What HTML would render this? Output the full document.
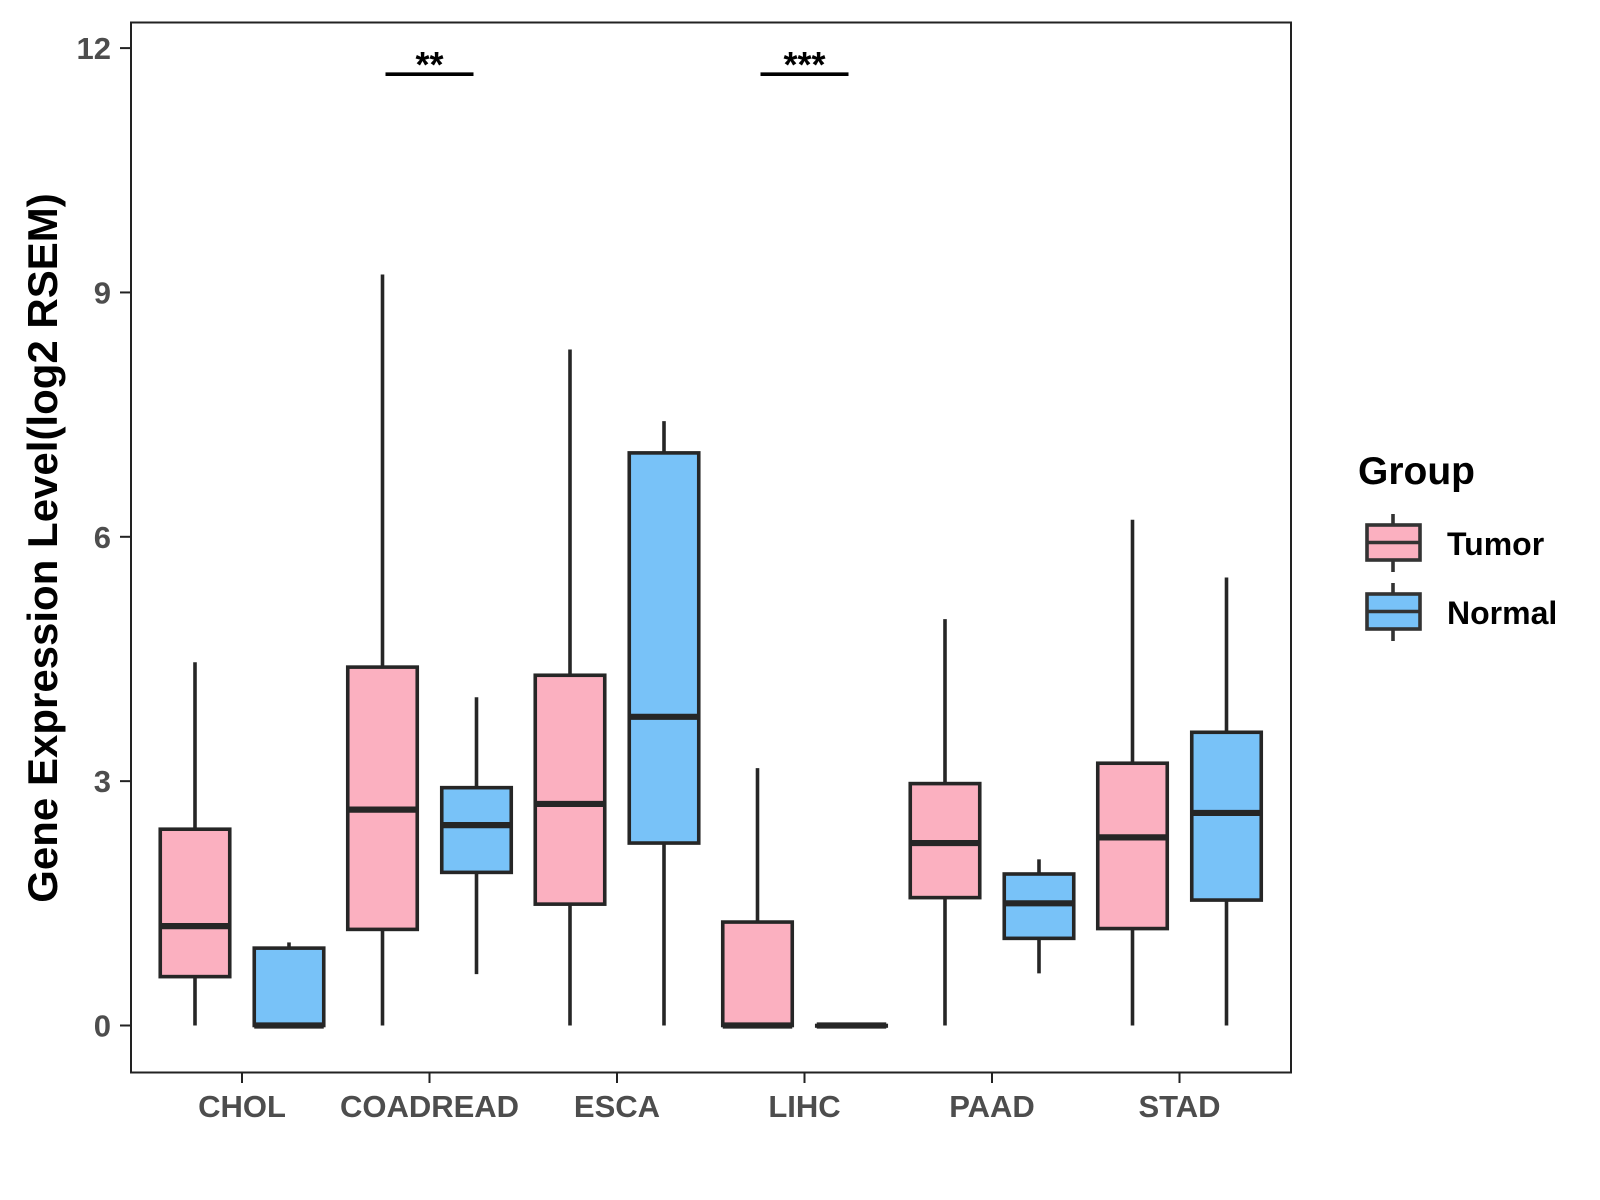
<!DOCTYPE html>
<html><head><meta charset="utf-8"><style>
html,body{margin:0;padding:0;background:#fff;}
svg{display:block;font-family:"Liberation Sans",Arial,sans-serif;}
</style></head><body>
<svg id="chart" width="1600" height="1200" viewBox="0 0 1600 1200">
<rect x="131" y="22.5" width="1160" height="1050" fill="#fff" stroke="#222" stroke-width="2"/>
<g id="marks"></g>
<g id="axes"></g>
<text transform="translate(57,548) rotate(-90)" text-anchor="middle" font-size="42" font-weight="bold" fill="#000">Gene Expression Level(log2 RSEM)</text>
<g>
<text x="1358" y="484" font-size="39" font-weight="bold" fill="#000">Group</text>
<g>
<line x1="1393" y1="514" x2="1393" y2="572" stroke="#333" stroke-width="3.6"/>
<rect x="1367" y="525" width="53" height="35" fill="#FBB0C0" stroke="#333" stroke-width="3.6"/>
<line x1="1367" y1="542.5" x2="1420" y2="542.5" stroke="#333" stroke-width="3.6"/>
<text x="1447" y="555" font-size="32" font-weight="bold" fill="#000">Tumor</text>
</g>
<g>
<line x1="1393" y1="583" x2="1393" y2="641" stroke="#333" stroke-width="3.6"/>
<rect x="1367" y="594" width="53" height="35" fill="#78C2F8" stroke="#333" stroke-width="3.6"/>
<line x1="1367" y1="611.5" x2="1420" y2="611.5" stroke="#333" stroke-width="3.6"/>
<text x="1447" y="624" font-size="32" font-weight="bold" fill="#000">Normal</text>
</g>
</g>
</svg>
<script>
const categories=["CHOL","COADREAD","ESCA","LIHC","PAAD","STAD"];
// [low, q1, median, q3, high]
const tumorStats=[[0,0.6,1.22,2.41,4.46],[0,1.18,2.65,4.4,9.22],[0,1.49,2.72,4.3,8.3],[0,0,0,1.27,3.16],[0,1.57,2.24,2.97,4.99],[0,1.19,2.31,3.22,6.21]];
const normalStats=[[0,0,0,0.95,1.02],[0.63,1.88,2.46,2.92,4.03],[0,2.24,3.79,7.03,7.42],[0,0,0,0,0],[0.64,1.07,1.5,1.86,2.04],[0,1.54,2.61,3.6,5.5]];
const yTicks=[0,3,6,9,12];
const sigLabels=[{cat:"COADREAD",label:"**",y:11.68},{cat:"LIHC",label:"***",y:11.68}];
const NS="http://www.w3.org/2000/svg";
const yScale=v=>1025.5-v*81.45;
const xScale=i=>242+i*187.5;
const marks=document.getElementById('marks'),axes=document.getElementById('axes');
function mk(tag,attrs,parent){const e=document.createElementNS(NS,tag);for(const k in attrs)e.setAttribute(k,attrs[k]);parent.appendChild(e);return e;}
function box(s,cx,fill,name){
  const g=mk('g',{},marks);
  
  
  const w=69.5,st={stroke:'#262626','stroke-width':3.6};
  mk('line',Object.assign({x1:cx,x2:cx,y1:yScale(s[0]),y2:yScale(s[1])},st),g);
  mk('line',Object.assign({x1:cx,x2:cx,y1:yScale(s[3]),y2:yScale(s[4])},st),g);
  mk('rect',Object.assign({x:cx-w/2,y:yScale(s[3]),width:w,height:Math.max(0.5,yScale(s[1])-yScale(s[3])),fill:fill},st),g);
  mk('line',{x1:cx-w/2,x2:cx+w/2,y1:yScale(s[2]),y2:yScale(s[2]),stroke:'#262626','stroke-width':6.2},g);
}
categories.forEach((c,i)=>{
  box(tumorStats[i],xScale(i)-47,'#FBB0C0','box-tumor-'+c.toLowerCase());
  box(normalStats[i],xScale(i)+47,'#78C2F8','box-normal-'+c.toLowerCase());
  const t=mk('line',{x1:xScale(i),x2:xScale(i),y1:1072.5,y2:1083,stroke:'#222','stroke-width':2},axes);
  
  
  const l=mk('text',{x:xScale(i),y:1117,'text-anchor':'middle','font-size':31,'font-weight':'bold',fill:'#4d4d4d'},axes);
  
  
  l.textContent=c;
});
yTicks.forEach(v=>{
  const t=mk('line',{x1:120,x2:131,y1:yScale(v),y2:yScale(v),stroke:'#222','stroke-width':2},axes);
  
  
  const l=mk('text',{x:111,y:yScale(v)+11,'text-anchor':'end','font-size':31,'font-weight':'bold',fill:'#4d4d4d'},axes);
  
  
  l.textContent=v;
});
sigLabels.forEach(s=>{
  const cx=xScale(categories.indexOf(s.cat));
  const ly=yScale(s.y);
  const ln=mk('line',{x1:cx-44,x2:cx+44,y1:ly,y2:ly,stroke:'#000','stroke-width':3.6},marks);
  
  
  const t=mk('text',{x:cx,y:ly+3,'text-anchor':'middle','font-size':36,'font-weight':'bold',fill:'#000'},marks);
  
  
  t.textContent=s.label;
});
</script>
</body></html>
